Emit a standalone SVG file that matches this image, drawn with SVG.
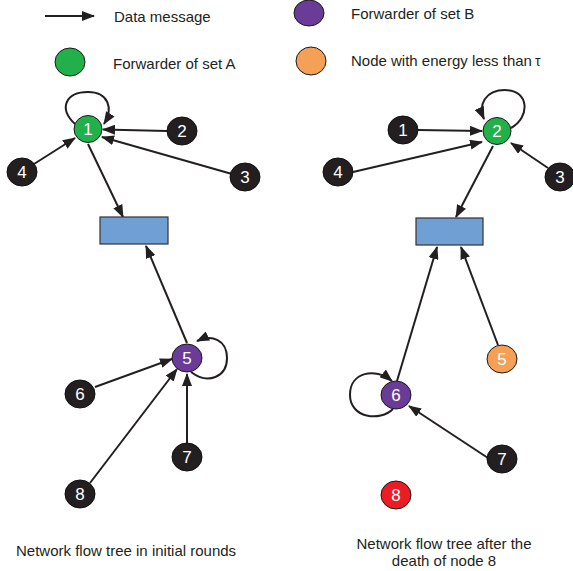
<svg xmlns="http://www.w3.org/2000/svg" width="573" height="571" viewBox="0 0 573 571">
<style>
text{font-family:"Liberation Sans",Arial,sans-serif;}
.lbl{font-size:15px;fill:#231f20;}
.num{font-size:17px;fill:#ffffff;text-anchor:middle;}
.blk{fill:#231f20;stroke:#111;stroke-width:1;}
.grn{fill:#22b04b;stroke:#1a1a1a;stroke-width:1;}
.pur{fill:#6a3c97;stroke:#1a1a1a;stroke-width:1;}
.org{fill:#f5a057;stroke:#1a1a1a;stroke-width:1;}
.red{fill:#ec1c24;stroke:#1a1a1a;stroke-width:1;}
.sink{fill:#709fd3;stroke:#333;stroke-width:1.2;}
.e{stroke:#231f20;stroke-width:2;fill:none;marker-end:url(#ah);}
</style>
<defs>
<marker id="ah" markerUnits="userSpaceOnUse" markerWidth="13" markerHeight="10" refX="12" refY="5" orient="auto">
<path d="M0,0 L13,5 L0,10 z" fill="#231f20"/>
</marker>
</defs>
<g id="legend">
<path class="e" d="M45,16 L94,16"/>
<text class="lbl" x="114" y="22">Data message</text>
<ellipse class="grn" cx="70" cy="62" rx="15" ry="14"/>
<text class="lbl" x="113" y="69">Forwarder of set A</text>
<ellipse class="pur" cx="309" cy="13" rx="15" ry="13"/>
<text class="lbl" x="351" y="19">Forwarder of set B</text>
<ellipse class="org" cx="311" cy="61" rx="15" ry="14"/>
<text class="lbl" x="351" y="66">Node with energy less than<tspan dx="3" font-size="14">τ</tspan></text>
</g>
<g id="connectors">
<path class="e" d="M75,124 C58,108 66,92 88,92 C108,92 114,108 104,124"/>
<path class="e" d="M167,131 L103,129.5"/>
<path class="e" d="M232,174 L102,137"/>
<path class="e" d="M34,164 L75,138"/>
<path class="e" d="M88,144 L123,217"/>
<path class="e" d="M187,343 L146,246"/>
<path class="e" d="M95,387 L172,359"/>
<path class="e" d="M90,483 L177,369"/>
<path class="e" d="M187,443 L187,374"/>
<path class="e" d="M191,372 C208,385 227,377 227,358 C227,340 212,334 197,341"/>
<path class="e" d="M511,128 C530,118 530,90 505,90 C485,90 478,105 484,119"/>
<path class="e" d="M418,130 L482,131"/>
<path class="e" d="M353,172 L482,142"/>
<path class="e" d="M548,168 L511,143"/>
<path class="e" d="M493,146 L456,217"/>
<path class="e" d="M397,381 L437,247"/>
<path class="e" d="M498,345 L461,247"/>
<path class="e" d="M488,458 L409,406"/>
<path class="e" d="M393,409 C380,422 350,418 350,395 C350,372 375,367 392,381"/>
</g>
<g id="sinkA"><rect class="sink" x="100" y="217" width="68" height="27"/></g>
<g id="sinkB"><rect class="sink" x="416" y="218" width="67" height="27"/></g>
<g id="A1"><ellipse class="grn" cx="88" cy="129" rx="14" ry="13.5"/><text class="num" x="88" y="135">1</text></g>
<g id="A2"><ellipse class="blk" cx="182" cy="131" rx="15" ry="14"/><text class="num" x="182" y="137">2</text></g>
<g id="A3"><ellipse class="blk" cx="245" cy="177" rx="15" ry="14"/><text class="num" x="245" y="183">3</text></g>
<g id="A4"><ellipse class="blk" cx="22" cy="172" rx="15" ry="14"/><text class="num" x="22" y="178">4</text></g>
<g id="A5"><ellipse class="pur" cx="187" cy="358" rx="15" ry="14"/><text class="num" x="187" y="364">5</text></g>
<g id="A6"><ellipse class="blk" cx="80" cy="394" rx="15" ry="14"/><text class="num" x="80" y="400">6</text></g>
<g id="A7"><ellipse class="blk" cx="187" cy="457" rx="15" ry="14"/><text class="num" x="187" y="463">7</text></g>
<g id="A8"><ellipse class="blk" cx="80" cy="494" rx="15" ry="14"/><text class="num" x="80" y="500">8</text></g>
<g id="B1"><ellipse class="blk" cx="403" cy="130" rx="15" ry="14"/><text class="num" x="403" y="136">1</text></g>
<g id="B2"><ellipse class="grn" cx="497" cy="131" rx="14" ry="13.5"/><text class="num" x="497" y="137">2</text></g>
<g id="B3"><ellipse class="blk" cx="560" cy="177" rx="15" ry="14"/><text class="num" x="560" y="183">3</text></g>
<g id="B4"><ellipse class="blk" cx="338" cy="172" rx="15" ry="14"/><text class="num" x="338" y="178">4</text></g>
<g id="B5"><ellipse class="org" cx="502" cy="359" rx="15" ry="14"/><text class="num" x="502" y="365">5</text></g>
<g id="B6"><ellipse class="pur" cx="396" cy="395" rx="15" ry="14"/><text class="num" x="396" y="401">6</text></g>
<g id="B7"><ellipse class="blk" cx="502" cy="459" rx="15" ry="14"/><text class="num" x="502" y="465">7</text></g>
<g id="B8"><ellipse class="red" cx="396" cy="495" rx="15" ry="14"/><text class="num" x="396" y="501">8</text></g>
<g id="captions">
<text class="lbl" x="16" y="556">Network flow tree in initial rounds</text>
<text class="lbl" x="444" y="549" text-anchor="middle">Network flow tree after the</text>
<text class="lbl" x="444" y="566" text-anchor="middle">death of node 8</text>
</g>
</svg>
